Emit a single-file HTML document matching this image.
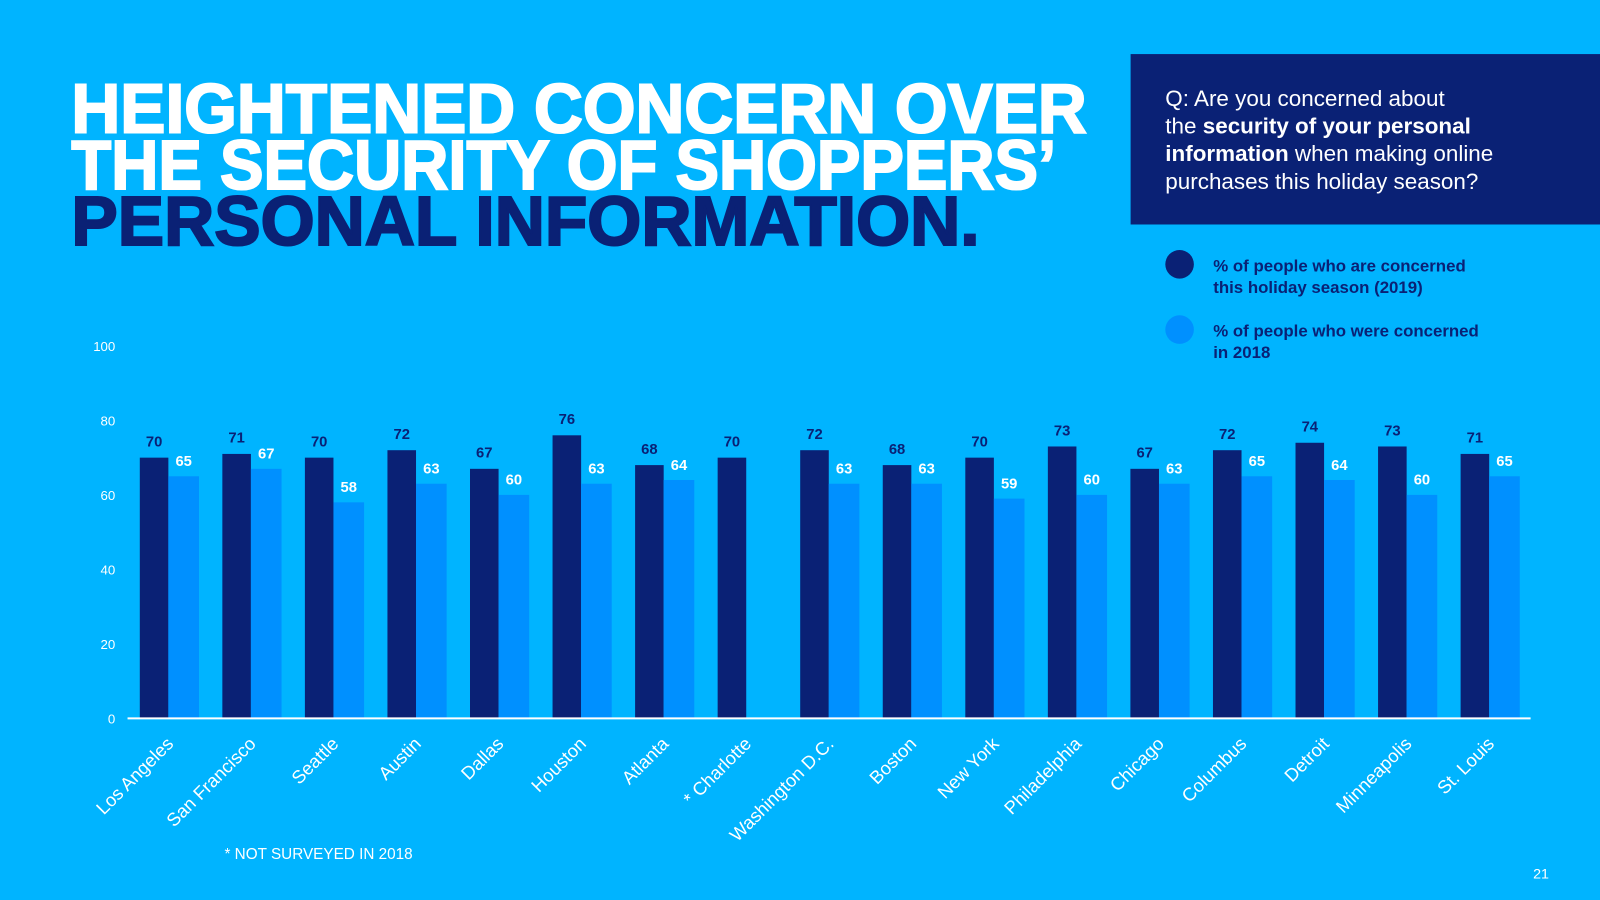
<!DOCTYPE html>
<html><head><meta charset="utf-8"><style>
html,body{margin:0;padding:0;background:#00b4ff;}
svg{display:block;font-family:"Liberation Sans",sans-serif;}
</style></head><body>
<svg width="1600" height="900" viewBox="0 0 1568 882" preserveAspectRatio="none">
<rect width="1568" height="882" fill="#00b4ff"/>
<g font-weight="900" font-size="68" font-family="Liberation Sans, sans-serif">
<text x="70" y="130" fill="#fff" textLength="995" lengthAdjust="spacingAndGlyphs" stroke="#fff" stroke-width="2">HEIGHTENED CONCERN OVER</text>
<text x="70" y="185" fill="#fff" textLength="965" lengthAdjust="spacingAndGlyphs" stroke="#fff" stroke-width="2">THE SECURITY OF SHOPPERS’</text>
<text x="70" y="240" fill="#0a2175" textLength="890" lengthAdjust="spacingAndGlyphs" stroke="#0a2175" stroke-width="2">PERSONAL INFORMATION.</text>
</g>
<g>
<rect x="1108" y="53" width="460" height="167" fill="#0a2175"/>
<g fill="#fff" font-size="22">
<text x="1142" y="104">Q: Are you concerned about</text>
<text x="1142" y="131">the <tspan font-weight="bold">security of your personal</tspan></text>
<text x="1142" y="158"><tspan font-weight="bold">information</tspan> when making online</text>
<text x="1142" y="185">purchases this holiday season?</text>
</g>
</g>
<g font-size="16.5" font-weight="bold" fill="#0a2175">
<g><circle cx="1156" cy="259" r="14" fill="#0a2175"/>
<text x="1189" y="266">% of people who are concerned</text><text x="1189" y="287">this holiday season (2019)</text></g>
<g><circle cx="1156" cy="323" r="14" fill="#0090ff"/>
<text x="1189" y="330">% of people who were concerned</text><text x="1189" y="351">in 2018</text></g>
</g>
<g id="plot"></g>
<text x="220" y="842" fill="#fff" font-size="15">* NOT SURVEYED IN 2018</text>
<text x="1518" y="861" fill="#fff" font-size="14" text-anchor="end">21</text>
</svg>
<script>
const categories=["Los Angeles","San Francisco","Seattle","Austin","Dallas","Houston","Atlanta","* Charlotte","Washington D.C.","Boston","New York","Philadelphia","Chicago","Columbus","Detroit","Minneapolis","St. Louis"];
const values2019=[70,71,70,72,67,76,68,70,72,68,70,73,67,72,74,73,71];
const values2018=[65,67,58,63,60,63,64,null,63,63,59,60,63,65,64,60,65];
const yTicks=[0,20,40,60,80,100];
const NS="http://www.w3.org/2000/svg";
const plot=document.getElementById('plot');
const y0=704,y100=339;
const y=v=>y0+(y100-y0)*v/100;
const gx=i=>137+i*80.9;
function mk(tag,attrs,parent){const e=document.createElementNS(NS,tag);for(const k in attrs)e.setAttribute(k,attrs[k]);(parent||plot).appendChild(e);return e;}
yTicks.forEach(t=>{const e=mk('text',{x:113,y:y(t)+5,'text-anchor':'end','font-size':13,fill:'#fff'});e.textContent=t;

});
categories.forEach((c,i)=>{
const x=gx(i);
const b=mk('rect',{x:x,y:y(values2019[i]),width:28,height:y0-y(values2019[i]),fill:'#0a2175'});


const l=mk('text',{x:x+14,y:y(values2019[i])-11,'text-anchor':'middle','font-size':14.5,'font-weight':'bold',fill:'#0a2175'});l.textContent=values2019[i];


if(values2018[i]!=null){
const b2=mk('rect',{x:x+28,y:y(values2018[i]),width:30,height:y0-y(values2018[i]),fill:'#0090ff'});


const l2=mk('text',{x:x+43,y:y(values2018[i])-10,'text-anchor':'middle','font-size':14.5,'font-weight':'bold',fill:'#fff'});l2.textContent=values2018[i];

}
const cl=mk('text',{x:x+34,y:730,'text-anchor':'end','font-size':18,fill:'#fff',transform:`rotate(-45 ${x+34} 730)`});cl.textContent=c;


});
const ax=mk('line',{x1:125,x2:1500,y1:y0,y2:y0,stroke:'#fff','stroke-width':2});


</script>
</body></html>
